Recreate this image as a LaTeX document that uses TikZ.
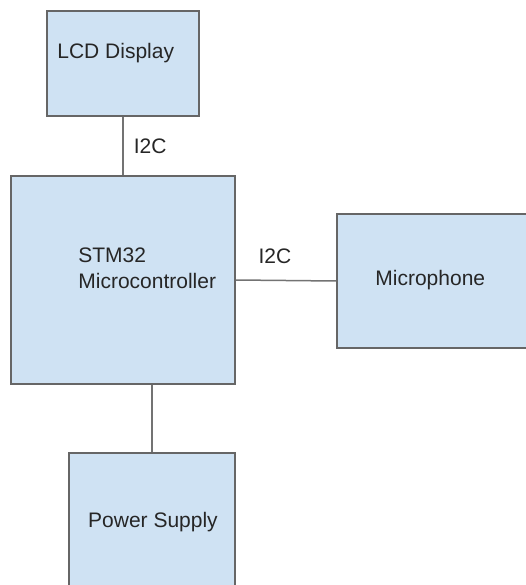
\documentclass[tikz,border=0pt]{standalone}
\usepackage{fontspec}
\setmainfont{Liberation Sans}
\usepackage{xcolor}
\usepackage{tikz}
\usetikzlibrary{calc}
\definecolor{boxfill}{HTML}{CFE2F3}
\definecolor{boxline}{HTML}{666666}
\definecolor{wirecol}{HTML}{737373}
\definecolor{txtcol}{HTML}{262626}
\tikzset{blk/.style={draw=boxline, line width=1.6pt, fill=boxfill, inner sep=0pt}}
\tikzset{lbl/.style={inner sep=0pt, text=txtcol, font=\fontsize{21}{26}\selectfont}}
\tikzset{wire/.style={draw=wirecol, line width=1.5pt}}

\begin{document}
\begin{tikzpicture} [x=1pt, y=-1pt]
\useasboundingbox (0,0) rectangle (526,585);
\clip (0,0) rectangle (526,585);
\fill[white] (0,0) rectangle (526,585);
% blocks
\node[blk, minimum width=152pt, minimum height=105pt] (lcd) at (123,63.5) {};
\node[blk, minimum width=224pt, minimum height=208pt] (stm) at (123,280) {};
\node[blk, minimum width=200pt, minimum height=134pt] (mic) at (437,281) {};
\node[blk, minimum width=166pt, minimum height=170pt] (pwr) at (152,538) {};
% block texts
\node[lbl, anchor=base west] (lcdtxt) at ($(lcd.north west)+(11,48.5)$) {LCD Display};
\node[lbl, anchor=base west, align=left] (stmtxt) at ($(stm.north west)+(68,113.5)$) {STM32\\Microcontroller};
\node[lbl, anchor=base west] (mictxt) at ($(mic.north west)+(39,72.4)$) {Microphone};
\node[lbl, anchor=base] (pwrtxt) at ($(pwr.north)+(1,75.4)$) {Power Supply};
% links
\draw[wire] (lcd.south) -- node[lbl, right=10pt]{I2C} (stm.north);
\draw[wire] (stm.east) -- node[lbl, pos=.39, above=16pt]{I2C} (mic.west);
\draw[wire] (pwr.north |- stm.south) -- (pwr.north);
\end{tikzpicture}
\end{document}
